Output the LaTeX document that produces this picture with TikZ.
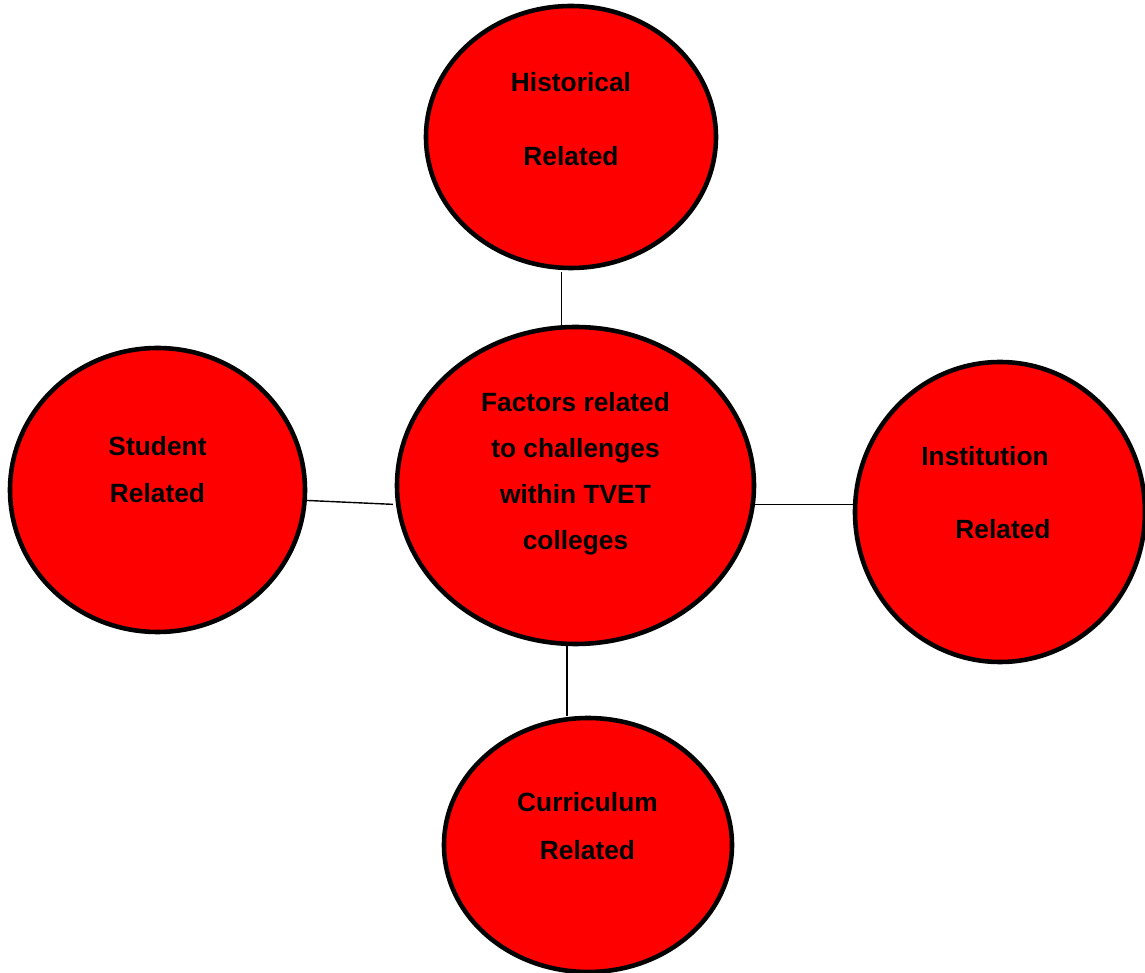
\documentclass[tikz,border=0pt]{standalone}
\usepackage{fontspec}
\setmainfont{Liberation Sans}
\usetikzlibrary{shapes.geometric}
\definecolor{fillred}{RGB}{255,0,0}
\tikzset{
  bubble/.style={ellipse, draw=black, line width=1.3pt, fill=fillred, inner sep=0pt},
  lbl/.style={font=\fontsize{7.5}{9}\selectfont\bfseries, text=black, inner sep=0pt, anchor=center},
  conn/.style={draw=black, line width=0.4pt}
}
\begin{document}
\begin{tikzpicture}
\useasboundingbox (0,0) rectangle (11.45,-9.73);
\clip (0,0) rectangle (11.45,-9.73);
% ellipses
\node[bubble, minimum width=2.90cm, minimum height=2.62cm] (hist) at (5.71,-1.37) {};
\node[bubble, minimum width=3.57cm, minimum height=3.17cm] (ctr) at (5.755,-4.855) {};
\node[bubble, minimum width=2.95cm, minimum height=2.84cm] (stu) at (1.575,-4.90) {};
\node[bubble, minimum width=2.90cm, minimum height=3.00cm] (inst) at (10.00,-5.12) {};
\node[bubble, minimum width=2.88cm, minimum height=2.54cm] (curr) at (5.88,-8.45) {};
% connectors
\draw[conn] ([yshift=-0.02cm]hist.266) -- ([yshift=-0.02cm]hist.266 |- ctr.north);
\draw[conn] (stu.-4) -- ([xshift=-0.03cm]ctr.186);
\draw[conn] (ctr.-6) -- (ctr.-6 -| inst.west);
\draw[conn] (ctr.267.5) -- (ctr.267.5 |- curr.north);
% labels
\node[lbl] (h1) at (5.71,-0.82) {Historical};
\node[lbl] (h2) at (5.71,-1.56) {Related};
\node[lbl] (c1) at (5.755,-4.02) {Factors related};
\node[lbl] (c2) at (5.755,-4.51) {to challenges};
\node[lbl] (c3) at (5.755,-4.94) {within TVET};
\node[lbl] (c4) at (5.755,-5.43) {colleges};
\node[lbl] (s1) at (1.575,-4.46) {Student};
\node[lbl] (s2) at (1.575,-4.93) {Related};
\node[lbl] (i1) at (9.85,-4.56) {Institution};
\node[lbl] (i2) at (10.03,-5.29) {Related};
\node[lbl] (u1) at (5.875,-8.02) {Curriculum};
\node[lbl] (u2) at (5.875,-8.50) {Related};
\end{tikzpicture}
\end{document}
